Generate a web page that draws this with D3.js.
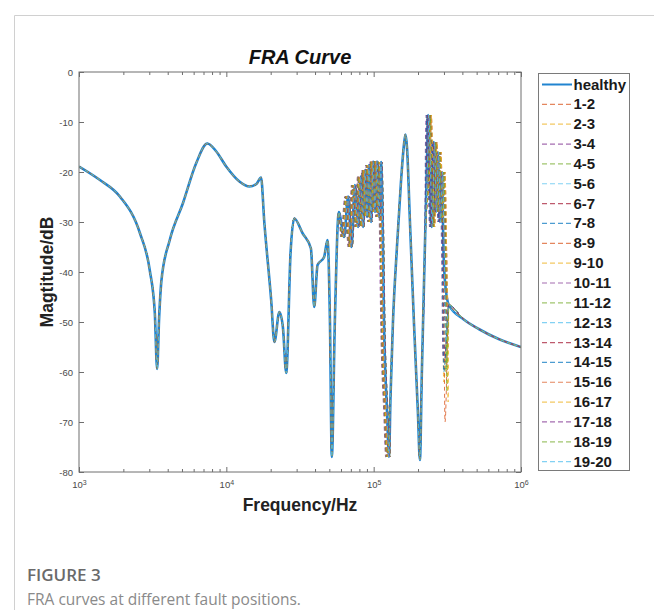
<!DOCTYPE html>
<html>
<head>
<meta charset="utf-8">
<script src="https://cdn.jsdelivr.net/npm/d3@7"></script>
<style>
  body { margin: 0; background: #fff; }
  svg text { font-family: "Liberation Sans", Arial, sans-serif; }
</style>
</head>
<body>
<svg id="chart" width="654" height="610"></svg>
<script>
// healthy winding response, [frequency Hz, magnitude dB]
const healthyCurve = [
  [1000, -18.9], [1387, -21.6], [1894, -24.9], [2590, -32.2], [3020, -39.6],
  [3270, -48.2], [3390, -59.4], [3500, -49], [3630, -41.6], [4130, -33.6],
  [5080, -26.2], [6250, -18.2], [7430, -14.3], [8500, -15.8], [9980, -18.9],
  [12270, -21.9], [14350, -22.9], [16000, -22.4], [17200, -21.1], [18100, -30],
  [20150, -45.6], [21200, -54], [22900, -48], [24200, -51], [25500, -60.2],
  [27300, -36], [28900, -29.3], [33000, -32.3], [37500, -35.3], [39500, -47],
  [41600, -38.6], [46100, -37], [48600, -33.6], [50500, -50], [52000, -77],
  [54500, -50], [58000, -28], [63000, -33], [67100, -24.9], [70600, -35],
  [74500, -22.6], [78400, -31], [81800, -20.9], [84800, -31], [87400, -19.6],
  [90200, -29], [93000, -18.6], [96000, -30], [99100, -17.9], [102100, -28],
  [105400, -17.9], [108800, -29], [112200, -18], [114900, -30], [117500, -50],
  [123200, -68], [127100, -77], [130100, -65], [135200, -50], [143900, -35],
  [153200, -22], [160600, -14.5], [164400, -12.5], [168300, -15], [176300, -30],
  [187600, -50], [199600, -68], [206000, -77.6], [212400, -60], [222700, -35],
  [231400, -15], [234300, -8.6], [240700, -20], [247000, -31], [256300, -14],
  [264400, -28], [272800, -16], [281300, -30], [290300, -20], [298000, -36],
  [305000, -42], [323700, -46.6], [409000, -49.5], [516600, -51.4],
  [705000, -53.4], [1000000, -55]
];

// fault positions and how far each one moves the response (estimated)
const faultNames = ["1-2", "2-3", "3-4", "4-5", "5-6", "6-7", "7-8", "8-9", "9-10", "10-11",
  "11-12", "12-13", "13-14", "14-15", "15-16", "16-17", "17-18", "18-19", "19-20"];
const midShift = [-1.5, 1, -3, 1.5, -0.5, -4, 0, -2, 1, -5, 1.5, -1, -3, 0.5, -1, -2.5, 1.5, -4, 0];   // % freq shift 62k-128k
const highShift = [3, -2, 5, 1, 4, -1, 2, 0, 5, -3, 3, 1, 4, -2, 2, 5, 0, 3, 1];          // % freq shift 228k-306k
const endDip = [-55, -62, -48, -60, -46, -58, -52, -70, -47, -57, -64, -45, -52, -60, -46, -66, -50, -59, -54];

const palette = ["#0072BD", "#D95319", "#EDB120", "#7E2F8E", "#77AC30", "#4DBEEE", "#A2142F"];

const xTicks = [1e3, 1e4, 1e5, 1e6];
const yTicks = [0, -10, -20, -30, -40, -50, -60, -70, -80];

const svg = d3.select("#chart");
const pLeft = 79, pRight = 521, pTop = 72, pBottom = 472;

const x = d3.scaleLog().domain([1e3, 1e6]).range([pLeft, pRight]);
const y = d3.scaleLinear().domain([-80, 0]).range([pBottom, pTop]);

// outer frame of the figure page
svg.append("path")
  .attr("d", "M14.5,610 L14.5,15.5 L654,15.5")
  .attr("fill", "none")
  .attr("stroke", "#d0d0d0");

svg.append("defs").append("clipPath").attr("id", "plotclip")
  .append("rect")
  .attr("x", pLeft).attr("y", pTop)
  .attr("width", pRight - pLeft).attr("height", pBottom - pTop);

// build a fault curve from the healthy one
function faultCurve(i) {
  return healthyCurve.map(([f, m]) => {
    let nf = f, nm = m;
    if (f >= 62000 && f <= 128000) nf = f * (1 + midShift[i] / 100);
    if (f >= 228000 && f <= 306000) nf = f * (1 + highShift[i] / 100);
    if (f === 305000) nm = endDip[i];
    return [nf, nm];
  });
}

const line = d3.line()
  .x(d => x(d[0]))
  .y(d => y(d[1]))
  .curve(d3.curveMonotoneX);

const plot = svg.append("g").attr("clip-path", "url(#plotclip)");

plot.append("path")
  .datum(healthyCurve)
  .attr("fill", "none")
  .attr("stroke", "#2184d0")
  .attr("stroke-width", 2.6)
  .attr("d", line);

faultNames.forEach((name, i) => {
  plot.append("path")
    .datum(faultCurve(i))
    .attr("fill", "none")
    .attr("stroke", palette[(i + 1) % 7])
    .attr("stroke-opacity", 0.8)
    .attr("stroke-width", 1)
    .attr("stroke-dasharray", "4,3")
    .attr("d", line);
});

// axes, MATLAB style: ticks inside, box on
const minorTicks = [];
[1e3, 1e4, 1e5].forEach(d => { for (let k = 2; k <= 9; k++) minorTicks.push(d * k); });

function styleAxis(g) {
  g.select(".domain").remove();
  g.selectAll("line").attr("stroke", "#6e6e6e");
  g.selectAll("text").attr("fill", "#4a4a4a").style("font-size", "9.5px").style("font-family", "Liberation Sans, Arial, sans-serif");
}

const gx = svg.append("g").attr("transform", `translate(0,${pBottom})`)
  .call(d3.axisBottom(x).tickValues(xTicks).tickSize(-5).tickPadding(9).tickFormat(() => "10"))
  .call(styleAxis);
gx.selectAll(".tick text").each(function (d) {
  d3.select(this).append("tspan")
    .attr("dy", "-0.45em")
    .style("font-size", "7px")
    .text(Math.round(Math.log10(d)));
});
svg.append("g").attr("transform", `translate(0,${pBottom})`)
  .call(d3.axisBottom(x).tickValues(minorTicks).tickSize(-3).tickFormat(""))
  .call(styleAxis);
svg.append("g").attr("transform", `translate(0,${pTop})`)
  .call(d3.axisTop(x).tickValues(xTicks).tickSize(-5).tickFormat(""))
  .call(styleAxis);
svg.append("g").attr("transform", `translate(0,${pTop})`)
  .call(d3.axisTop(x).tickValues(minorTicks).tickSize(-3).tickFormat(""))
  .call(styleAxis);

svg.append("g").attr("transform", `translate(${pLeft},0)`)
  .call(d3.axisLeft(y).tickValues(yTicks).tickSize(-5).tickPadding(6).tickFormat(d => d))
  .call(styleAxis);
svg.append("g").attr("transform", `translate(${pRight},0)`)
  .call(d3.axisRight(y).tickValues(yTicks).tickSize(-5).tickFormat(""))
  .call(styleAxis);

svg.append("rect")
  .attr("x", pLeft).attr("y", pTop)
  .attr("width", pRight - pLeft).attr("height", pBottom - pTop)
  .attr("fill", "none")
  .attr("stroke", "#6e6e6e")
  .attr("stroke-width", 1);

// title and axis labels
svg.append("text")
  .attr("x", (pLeft + pRight) / 2).attr("y", 64)
  .attr("text-anchor", "middle")
  .style("font-size", "20px").style("font-weight", "bold").style("font-style", "italic")
  .attr("fill", "#111")
  .text("FRA Curve");

svg.append("text")
  .attr("x", (pLeft + pRight) / 2).attr("y", 511)
  .attr("text-anchor", "middle")
  .style("font-size", "17.5px").style("font-weight", "bold")
  .attr("fill", "#222")
  .text("Frequency/Hz");

svg.append("text")
  .attr("transform", `translate(53,${(pTop + pBottom) / 2}) rotate(-90)`)
  .attr("text-anchor", "middle")
  .style("font-size", "17.5px").style("font-weight", "bold")
  .attr("fill", "#222")
  .text("Magtitude/dB");

// legend
const legend = svg.append("g");
legend.append("rect")
  .attr("x", 538.5).attr("y", 73.5)
  .attr("width", 91).attr("height", 397)
  .attr("fill", "#fff")
  .attr("stroke", "#7a7a7a");

const entries = ["healthy"].concat(faultNames);
entries.forEach((name, i) => {
  const ly = 84.5 + i * 19.85;
  legend.append("line")
    .attr("x1", 542).attr("x2", 572)
    .attr("y1", ly).attr("y2", ly)
    .attr("stroke", i === 0 ? "#2184d0" : palette[i % 7])
    .attr("stroke-opacity", i === 0 ? 1 : 0.7)
    .attr("stroke-width", i === 0 ? 2 : 1.2)
    .attr("stroke-dasharray", i === 0 ? null : "5,3");
  legend.append("text")
    .attr("x", 573.5).attr("y", ly + 5)
    .style("font-size", "15px").style("font-weight", "bold")
    .attr("fill", "#1a1a1a")
    .text(name);
});

// caption
svg.append("text")
  .attr("x", 27).attr("y", 581)
  .style("font-family", "'Open Sans', sans-serif")
  .style("font-size", "17px").style("font-weight", "600")
  .attr("fill", "#6a6a6a")
  .text("FIGURE 3");
svg.append("text")
  .attr("x", 27).attr("y", 605)
  .style("font-family", "'Open Sans', sans-serif")
  .style("font-size", "15.5px")
  .attr("fill", "#8a8a8a")
  .text("FRA curves at different fault positions.");
</script>
</body>
</html>
